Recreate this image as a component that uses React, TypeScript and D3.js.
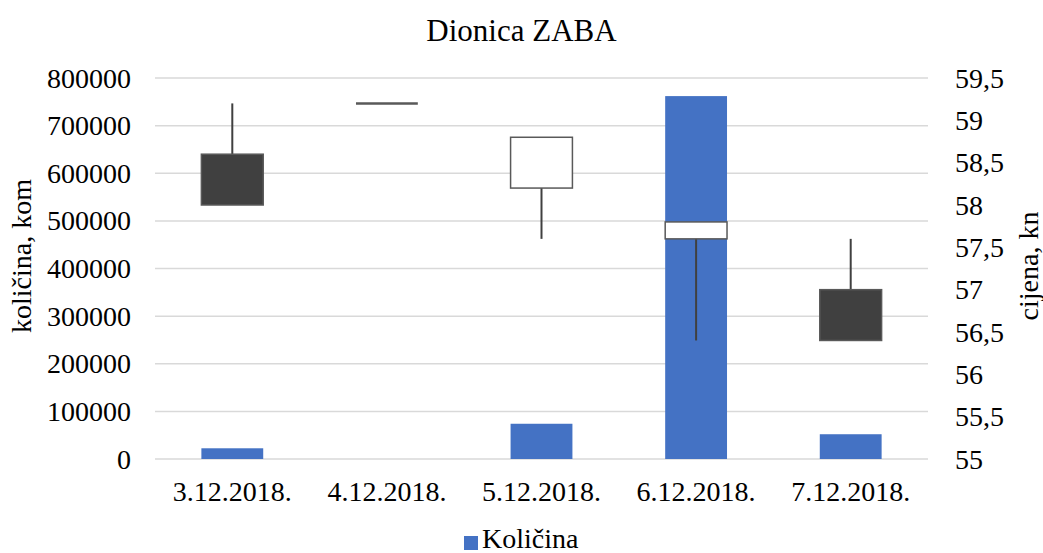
import * as d3 from "d3";

const dates = ["3.12.2018.", "4.12.2018.", "5.12.2018.", "6.12.2018.", "7.12.2018."];
const volume = [22500, 0, 74000, 762000, 52000];
const open = [58.6, 59.2, 58.2, 57.6, 57.0];
const high = [59.2, 59.2, 58.8, 57.8, 57.6];
const low = [58.0, 59.2, 57.6, 56.4, 56.4];
const close = [58.0, 59.2, 58.8, 57.8, 56.4];
const volumeTicks = [0, 100000, 200000, 300000, 400000, 500000, 600000, 700000, 800000];
const priceTicks = [55, 55.5, 56, 56.5, 57, 57.5, 58, 58.5, 59, 59.5];

const W = 1043;
const H = 553;
const left = 155;
const right = 928;
const top = 78;
const bottom = 459;
const font = '"Times New Roman", Times, Tinos, "Nimbus Roman", "Liberation Serif", "DejaVu Serif", "Noto Serif", serif';

export default function App() {
  const x = d3.scaleBand<string>().domain(dates).range([left, right]).paddingInner(0.6).paddingOuter(0.3);
  const yVol = d3.scaleLinear().domain([0, 800000]).range([bottom, top]);
  const yPrice = d3.scaleLinear().domain([55, 59.5]).range([bottom, top]);
  const bw = x.bandwidth();
  const fmt = (v: number) => String(v).replace(".", ",");
  const ts = { fontFamily: font, fill: "#000" };

  return (
    <svg width={W} height={H} style={{ position: "absolute", left: 0, top: 0, fontFamily: font }}>
      <rect width={W} height={H} fill="#fff" />
      <text x={W / 2} y={41} textAnchor="middle" fontSize={31} style={ts}>
        Dionica ZABA
      </text>

      {/* grid + left axis */}
      {volumeTicks.map((t) => (
        <g key={t}>
          <line x1={left} x2={right} y1={yVol(t)} y2={yVol(t)} stroke="#d9d9d9" strokeWidth={1.5} />
          <text x={131} y={yVol(t) + 9.5} textAnchor="end" fontSize={28} style={ts}>
            {t}
          </text>
        </g>
      ))}
      {priceTicks.map((t) => (
        <text key={t} x={955} y={yPrice(t) + 9.5} fontSize={28} style={ts}>
          {fmt(t)}
        </text>
      ))}

      <text transform={`translate(31,256) rotate(-90)`} textAnchor="middle" fontSize={28} style={ts}>
        količina, kom
      </text>
      <text transform={`translate(1038,266) rotate(-90)`} textAnchor="middle" fontSize={28} style={ts}>
        cijena, kn
      </text>

      {/* volume bars */}
      {dates.map((d, i) => (
        <rect
          key={d}
          x={x(d)!}
          y={yVol(volume[i])}
          width={bw}
          height={bottom - yVol(volume[i])}
          fill="#4472c4"
        />
      ))}

      {/* candlesticks */}
      {dates.map((d, i) => {
        const cx = x(d)! + bw / 2;
        const up = close[i] >= open[i];
        const yTop = yPrice(Math.max(open[i], close[i]));
        const yBot = yPrice(Math.min(open[i], close[i]));
        return (
          <g key={d}>
            <line x1={cx} x2={cx} y1={yPrice(high[i])} y2={yPrice(low[i])} stroke="#404040" strokeWidth={2} />
            {yBot - yTop > 0.5 ? (
              <rect
                x={x(d)!}
                y={yTop}
                width={bw}
                height={yBot - yTop}
                fill={up ? "#fff" : "#404040"}
                stroke="#595959"
                strokeWidth={1.5}
              />
            ) : (
              <line x1={x(d)!} x2={x(d)! + bw} y1={yTop} y2={yTop} stroke="#595959" strokeWidth={2.5} />
            )}
          </g>
        );
      })}

      {/* category labels */}
      {dates.map((d) => (
        <text key={d} x={x(d)! + bw / 2} y={501} textAnchor="middle" fontSize={28} style={ts}>
          {d}
        </text>
      ))}

      {/* legend */}
      <rect x={464} y={536} width={14} height={14} fill="#4472c4" />
      <text x={482} y={548} fontSize={28} style={ts}>
        Količina
      </text>
    </svg>
  );
}
